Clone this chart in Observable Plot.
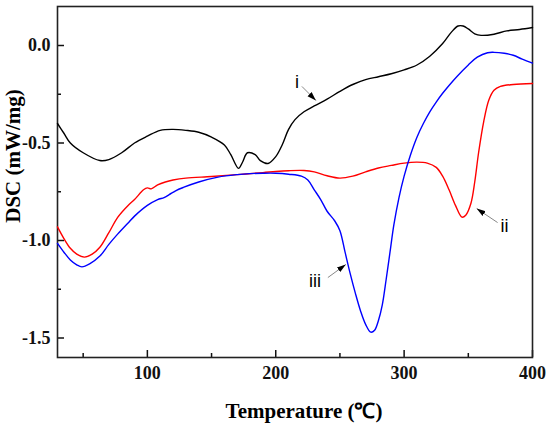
<!DOCTYPE html>
<html>
<head>
<meta charset="utf-8">
<script src="https://cdn.jsdelivr.net/npm/d3@7"></script>
<script src="https://cdn.jsdelivr.net/npm/@observablehq/plot@0.6"></script>
<style>
  html, body { margin: 0; padding: 0; background: #fff; }
</style>
</head>
<body>
<div id="chart"></div>
<script>
// Curve i (black)
const tempI = [30,35,40,50,63,70,80,90,100,110,120,130,140,150,160,165,171,174,178,184,188,194,200,205,210,215,222,230,240,250,260,270,280,290,300,310,320,330,337,342,346,350,355,360,370,380,390,400];
const dscI  = [-0.40,-0.45,-0.50,-0.55,-0.59,-0.585,-0.55,-0.50,-0.465,-0.435,-0.43,-0.435,-0.445,-0.47,-0.51,-0.56,-0.63,-0.60,-0.55,-0.56,-0.59,-0.605,-0.57,-0.51,-0.43,-0.38,-0.34,-0.31,-0.275,-0.235,-0.20,-0.175,-0.16,-0.145,-0.125,-0.10,-0.055,0.01,0.07,0.10,0.10,0.085,0.06,0.052,0.058,0.075,0.082,0.092];

// Curve ii (red)
const tempII = [30,35,40,45,51,57,63,70,77,85,90,97,100,103,108,114,120,130,150,170,190,200,210,222,230,240,250,260,270,280,290,300,310,318,325,330,335,340,345,348,352,355,358,362,366,370,375,385,400];
const dscII  = [-0.93,-0.99,-1.04,-1.07,-1.085,-1.07,-1.035,-0.96,-0.88,-0.82,-0.79,-0.74,-0.73,-0.735,-0.715,-0.70,-0.69,-0.68,-0.672,-0.662,-0.652,-0.646,-0.642,-0.641,-0.648,-0.668,-0.68,-0.67,-0.648,-0.628,-0.615,-0.603,-0.598,-0.603,-0.625,-0.67,-0.74,-0.82,-0.88,-0.87,-0.81,-0.70,-0.55,-0.39,-0.28,-0.23,-0.21,-0.20,-0.195];

// Curve iii (blue)
const tempIII = [30,35,40,45,49,55,63,70,77,85,90,100,108,113,117,122,128,140,155,170,180,190,200,210,220,225,230,235,240,246,250,254,258,262,266,270,274,277,280,283,286,289,292,296,300,305,310,315,320,325,330,335,341,350,357,365,370,378,385,392,400];
const dscIII  = [-1.015,-1.06,-1.10,-1.125,-1.135,-1.12,-1.08,-1.02,-0.966,-0.91,-0.875,-0.82,-0.79,-0.78,-0.765,-0.745,-0.728,-0.70,-0.675,-0.662,-0.657,-0.655,-0.655,-0.66,-0.67,-0.69,-0.74,-0.79,-0.85,-0.90,-0.95,-1.06,-1.17,-1.27,-1.36,-1.43,-1.47,-1.46,-1.41,-1.33,-1.20,-1.06,-0.92,-0.78,-0.67,-0.56,-0.47,-0.40,-0.34,-0.29,-0.245,-0.205,-0.16,-0.10,-0.06,-0.037,-0.035,-0.04,-0.05,-0.07,-0.09];

// Axis ticks
const xMajor = [100, 200, 300, 400];
const xMinor = [50, 150, 250, 350];
const yMajor = [0, -0.5, -1.0, -1.5];
const yMinor = [-0.25, -0.75, -1.25];

// Annotation labels (data units) and arrows
const labelText = ["i", "ii", "iii"];
const labelT    = [216.6, 378.2, 230.5];
const labelV    = [-0.19, -0.928, -1.21];
const arrowT1   = [220.4, 372.8, 240.6];
const arrowV1   = [-0.21, -0.908, -1.19];
const arrowT2   = [231.3, 356.5, 254.6];
const arrowV2   = [-0.282, -0.836, -1.123];

const seriesI = tempI.map((t, i) => ({T: t, v: dscI[i]}));
const seriesII = tempII.map((t, i) => ({T: t, v: dscII[i]}));
const seriesIII = tempIII.map((t, i) => ({T: t, v: dscIII[i]}));
const labels = labelText.map((s, i) => ({s, T: labelT[i], v: labelV[i]}));
const arrows = labelText.map((s, i) => ({x1: arrowT1[i], y1: arrowV1[i], x2: arrowT2[i], y2: arrowV2[i]}));

function filledArrow(color, context) {
  const m = d3.create("svg:marker")
    .attr("viewBox", "-10 -5 10 10")
    .attr("markerWidth", 9)
    .attr("markerHeight", 9)
    .attr("markerUnits", "userSpaceOnUse")
    .attr("orient", "auto")
    .attr("fill", "#000")
    .attr("stroke", "none");
  m.append("path").attr("d", "M-10,-3.2L0,0L-10,3.2Z");
  return m.node();
}

const serif = "'Liberation Serif', 'Times New Roman', serif";
const fmt = d => d.toFixed(1);
const tickStyle = {text: null, label: null, stroke: "#111", strokeWidth: 1.5};
const labelStyle = {tickSize: 0, fontSize: 18, fontWeight: "bold", fontFamily: serif, fill: "#111", label: null};

const chart = Plot.plot({
  width: 550,
  height: 426,
  marginLeft: 57,
  marginRight: 18,
  marginTop: 6,
  marginBottom: 69,
  style: {fontFamily: serif, background: "#fff", overflow: "visible"},
  x: {domain: [30, 400]},
  y: {domain: [-1.6, 0.2]},
  marks: [
    // inward ticks
    Plot.axisX(xMajor, {...tickStyle, tickSize: 7, dy: -7}),
    Plot.axisX(xMinor, {...tickStyle, tickSize: 4, dy: -4}),
    Plot.axisY(yMajor, {...tickStyle, tickSize: 7, dx: 7}),
    Plot.axisY(yMinor, {...tickStyle, tickSize: 4, dx: 4}),
    // tick labels
    Plot.axisX(xMajor, {...labelStyle, tickPadding: 9, tickFormat: d => String(d)}),
    Plot.axisY(yMajor, {...labelStyle, tickPadding: 7, tickFormat: fmt}),
    Plot.frame({stroke: "#222", strokeWidth: 1.6}),
    Plot.line(seriesI, {x: "T", y: "v", stroke: "#000", strokeWidth: 1.4, curve: "catmull-rom"}),
    Plot.line(seriesII, {x: "T", y: "v", stroke: "#ff0000", strokeWidth: 1.4, curve: "catmull-rom"}),
    Plot.line(seriesIII, {x: "T", y: "v", stroke: "#0000ff", strokeWidth: 1.4, curve: "catmull-rom"}),
    Plot.link(arrows, {x1: "x1", y1: "y1", x2: "x2", y2: "y2", stroke: "#888", strokeWidth: 1, markerEnd: filledArrow}),
    Plot.text(labels, {x: "T", y: "v", text: "s", fontFamily: "'Liberation Sans', Arial, sans-serif", fontSize: 18, fill: "#000"}),
    Plot.text(["Temperature (℃)"], {frameAnchor: "bottom", dx: 9, dy: 54, fontSize: 21, fontWeight: "bold", fontFamily: serif, fill: "#000", lineAnchor: "middle"}),
    Plot.text(["DSC (mW/mg)"], {frameAnchor: "left", textAnchor: "middle", dx: -44, dy: -26, rotate: -90, fontSize: 21, fontWeight: "bold", fontFamily: serif, fill: "#000", lineAnchor: "middle"})
  ]
});
document.getElementById("chart").appendChild(chart);
</script>
</body>
</html>
